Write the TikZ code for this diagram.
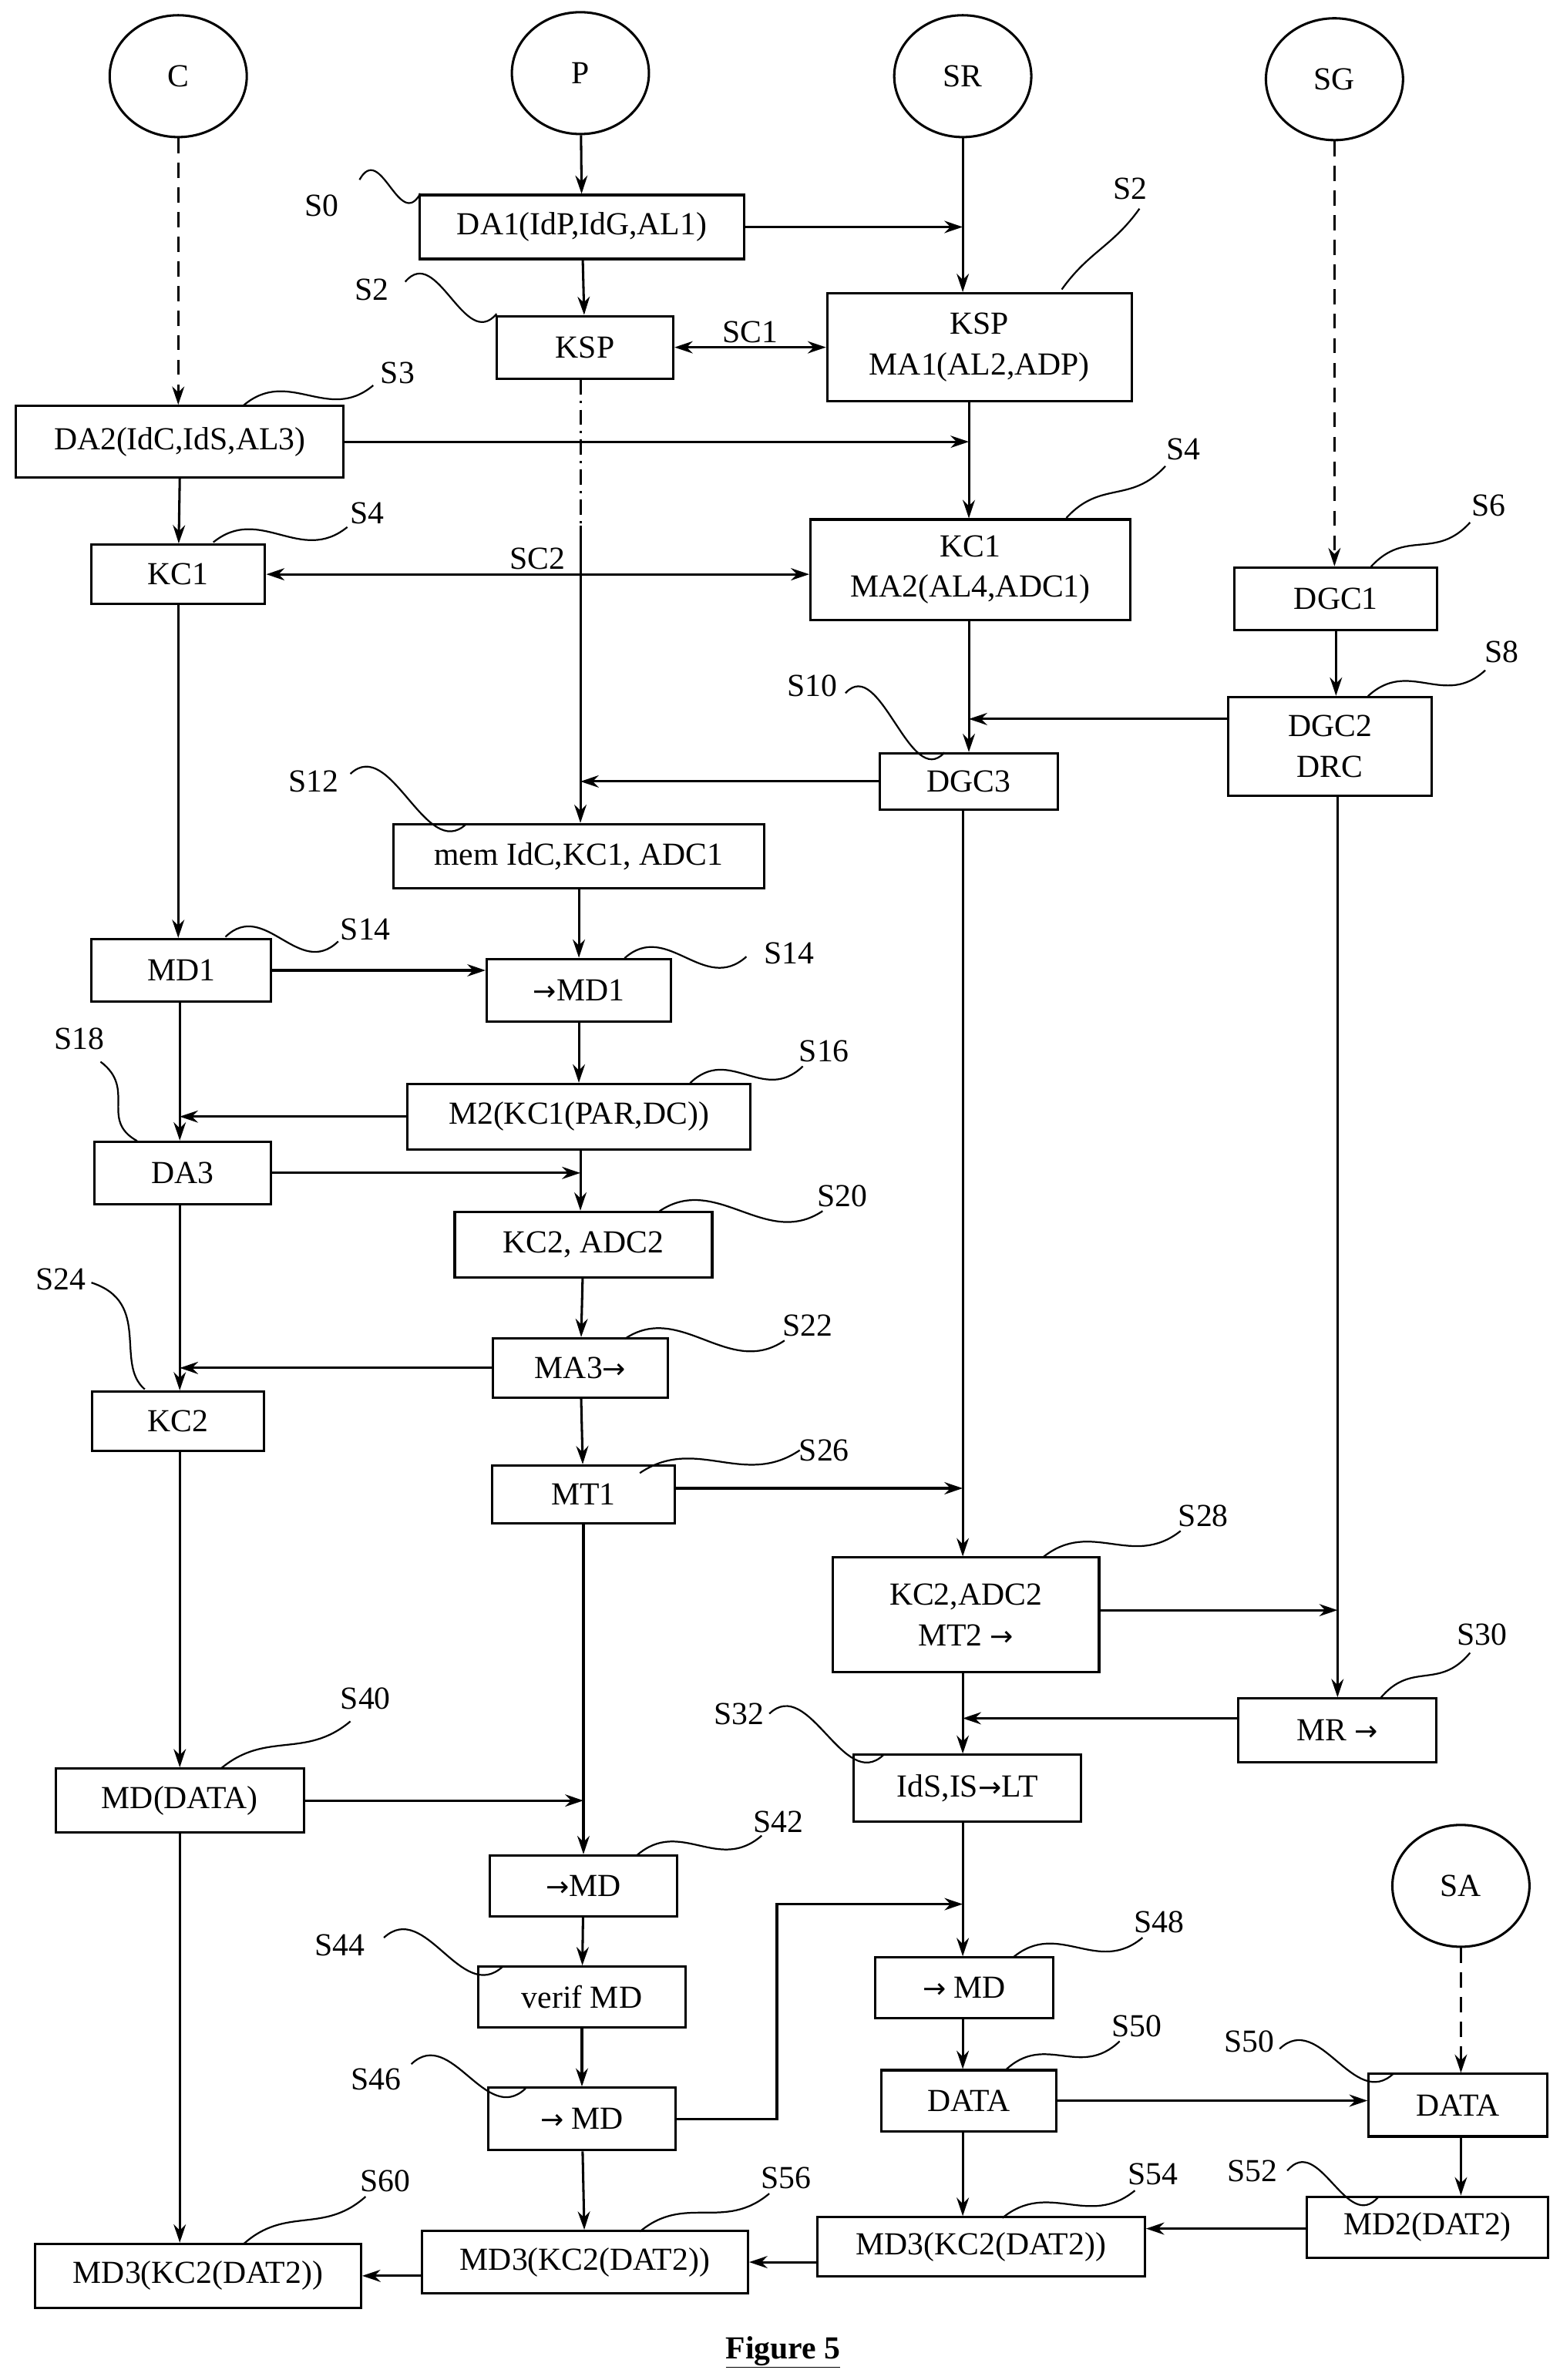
\documentclass[tikz,border=0pt]{standalone}
\usepackage{fontspec}
\setmainfont{Liberation Serif}
\newfontfamily\arrowfont{DejaVu Sans}
\newcommand\rarr{{\arrowfont\fontsize{26}{30}\selectfont→}}
\usetikzlibrary{shapes.geometric,arrows.meta}
\tikzstyle{box} = [rectangle, draw=black, line width=2.2pt, minimum height=2cm, align=center, inner sep=2pt, font=\fontsize{30}{38}\selectfont]
\tikzstyle{actor} = [ellipse, draw=black, line width=2.2pt, minimum width=4.5cm, minimum height=4cm, font=\fontsize{30}{36}\selectfont]
\tikzstyle{arrow} = [line width=2.2pt,-{Stealth[length=0.6cm,width=0.4cm]}]
\tikzstyle{biarrow} = [line width=2.2pt,{Stealth[length=0.6cm,width=0.4cm]}-{Stealth[length=0.6cm,width=0.4cm]}]
\tikzstyle{longdash} = [dash pattern=on 14pt off 9pt]
\tikzstyle{lead} = [line width=1.6pt]
\tikzstyle{lbl} = [font=\fontsize{30}{36}\selectfont]
\begin{document}
\begin{tikzpicture}[x=0.05cm,y=-0.05cm]
\useasboundingbox (0,0) rectangle (1024,1562.4);

% actors
\node (C) [actor] at (117,50) {C};
\node (P) [actor] at (381,48) {P};
\node (SR) [actor] at (632,50) {SR};
\node (SG) [actor] at (876,52) {SG};
\node (SA) [actor] at (959,1238) {SA};

% columns
\coordinate (pcol) at (381,0);
\coordinate (srcol) at (632,0);
\coordinate (mcol) at (636,0);
\coordinate (ccol) at (118,0);
\coordinate (sgcol) at (878,0);

% boxes
\node (DA1) [box, minimum width=10.65cm, minimum height=2.1cm] at (382,149) {DA1(IdP,IdG,AL1)};
\node (KSPa) [box, minimum width=5.8cm, minimum height=2.05cm] at (384,228) {KSP};
\node (KSPb) [box, minimum width=10cm, minimum height=3.55cm] at (643,228) {KSP\\MA1(AL2,ADP)};
\node (DA2) [box, minimum width=10.75cm, minimum height=2.35cm] at (118,290) {DA2(IdC,IdS,AL3)};
\node (KC1a) [box, minimum width=5.7cm, minimum height=1.95cm] at (117,377) {KC1};
\node (KC1b) [box, minimum width=10.5cm, minimum height=3.3cm] at (637,374) {KC1\\MA2(AL4,ADC1)};
\node (DGC1) [box, minimum width=6.65cm, minimum height=2.05cm] at (877,393) {DGC1};
\node (DGC2) [box, minimum width=6.7cm, minimum height=3.25cm] at (873,490) {DGC2\\DRC};
\node (DGC3) [box, minimum width=5.85cm, minimum height=1.85cm] at (636,513) {DGC3};
\node (mem) [box, minimum width=12.15cm, minimum height=2.1cm] at (380,562) {mem IdC,KC1, ADC1};
\node (MD1) [box, minimum width=5.9cm, minimum height=2.05cm] at (119,637) {MD1};
\node (rMD1) [box, minimum width=6.05cm, minimum height=2.05cm] at (380,650) {\rarr MD1};
\node (M2) [box, minimum width=11.25cm, minimum height=2.15cm] at (380,733) {M2(KC1(PAR,DC))};
\node (DA3) [box, minimum width=5.8cm, minimum height=2.05cm] at (120,770) {DA3};
\node (KC2ADC2) [box, minimum width=8.45cm, minimum height=2.15cm] at (383,817) {KC2, ADC2};
\node (MA3) [box, minimum width=5.75cm, minimum height=1.95cm] at (381,898) {MA3\rarr};
\node (KC2) [box, minimum width=5.65cm, minimum height=1.95cm] at (117,933) {KC2};
\node (MT1) [box, minimum width=6cm, minimum height=1.9cm] at (383,981) {MT1};
\node (MT2) [box, minimum width=8.75cm, minimum height=3.75cm] at (634,1060) {KC2,ADC2\\MT2 \rarr};
\node (MR) [box, minimum width=6.5cm, minimum height=2.1cm] at (878,1136) {MR \rarr};
\node (IdS) [box, minimum width=7.45cm, minimum height=2.2cm] at (635,1174) {IdS,IS\rarr LT};
\node (MDDATA) [box, minimum width=8.15cm, minimum height=2.1cm] at (118,1182) {MD(DATA)};
\node (rMDa) [box, minimum width=6.15cm, minimum height=2cm] at (383,1238) {\rarr MD};
\node (verif) [box, minimum width=6.8cm, minimum height=2cm] at (382,1311) {verif MD};
\node (rMDb) [box, minimum width=5.85cm, minimum height=2cm] at (633,1305) {\rarr{} MD};
\node (rMDc) [box, minimum width=6.15cm, minimum height=2.05cm] at (382,1391) {\rarr{} MD};
\node (DATAa) [box, minimum width=5.75cm, minimum height=2cm] at (636,1379) {DATA};
\node (DATAb) [box, minimum width=5.85cm, minimum height=2.05cm] at (957,1382) {DATA};
\node (MD2) [box, minimum width=7.9cm, minimum height=2cm] at (937,1462) {MD2(DAT2)};
\node (MD3a) [box, minimum width=10.75cm, minimum height=1.95cm] at (644,1475) {MD3(KC2(DAT2))};
\node (MD3b) [box, minimum width=10.7cm, minimum height=2.05cm] at (384,1485) {MD3(KC2(DAT2))};
\node (MD3c) [box, minimum width=10.7cm, minimum height=2.1cm] at (130,1494) {MD3(KC2(DAT2))};
\node (fig) [font=\fontsize{30}{36}\selectfont\bfseries] at (514,1544) {\underline{Figure 5}};

% connectors
\draw [arrow] (P) -- (DA1);
\draw [arrow] (DA1) -- (KSPa);
\draw [arrow] (DA1.east) -- (DA1.east -| srcol);
\draw [arrow] (SR) -- (SR |- KSPb.north);
\draw [biarrow] (KSPa) -- node[lbl, above] {SC1} (KSPb);
\draw [line width=2.2pt, dash pattern=on 14pt off 6pt on 2pt off 6pt] (KSPa.south -| pcol) -- (381,345);
\draw [arrow] (381,345) -- (mem.north -| pcol);
\draw [arrow, longdash] (C) -- (C |- DA2.north);
\draw [arrow] (DA2.east) -- (DA2.east -| mcol);
\draw [arrow] (KSPb.south -| mcol) -- (KC1b.north -| mcol);
\draw [arrow] (DA2.south -| ccol) -- (KC1a);
\draw [biarrow] (KC1a) -- node[lbl, above] {SC2} (KC1a -| KC1b.west);
\draw [arrow, longdash] (SG) -- (SG |- DGC1.north);
\draw [arrow] (DGC1) -- (DGC1 |- DGC2.north);
\draw [arrow] (KC1b.south -| mcol) -- (DGC3.north -| mcol);
\draw [arrow] (DGC2.west |- 0,472) -- (636,472);
\draw [arrow] (DGC3.west) -- (DGC3.west -| pcol);
\draw [arrow] (mem) -- (rMD1);
\draw [arrow] (KC1a) -- (MD1.north -| KC1a);
\draw [arrow] (MD1.east) -- (MD1.east -| rMD1.west);
\draw [arrow] (rMD1) -- (M2);
\draw [arrow] (M2.west) -- (M2.west -| ccol);
\draw [arrow] (MD1.south -| ccol) -- (DA3.north -| ccol);
\draw [arrow] (DA3.east) -- (DA3.east -| pcol);
\draw [arrow] (M2.south -| pcol) -- (KC2ADC2.north -| pcol);
\draw [arrow] (KC2ADC2) -- (MA3);
\draw [arrow] (MA3.west) -- (MA3.west -| ccol);
\draw [arrow] (DA3.south -| ccol) -- (KC2.north -| ccol);
\draw [arrow] (MA3) -- (MT1);
\draw [arrow] (MT1.east |- 0,977) -- (632,977);
\draw [arrow] (DGC3.south -| srcol) -- (MT2.north -| srcol);
\draw [arrow] (DGC2.south -| sgcol) -- (MR.north -| sgcol);
\draw [arrow] (MT2.east |- 0,1057) -- (878,1057);
\draw [arrow] (MT2.south -| srcol) -- (IdS.north -| srcol);
\draw [arrow] (MR.west |- 0,1128) -- (632,1128);
\draw [arrow] (KC2.south -| ccol) -- (MDDATA.north -| ccol);
\draw [arrow] (MDDATA.east) -- (MDDATA.east -| rMDa);
\draw [arrow] (MT1) -- (rMDa);
\draw [arrow] (rMDa) -- (verif);
\draw [arrow] (verif) -- (rMDc);
\coordinate (bend) at (510,1250);
\draw [arrow] (rMDc.east) -| (bend) -- (bend -| srcol);
\draw [arrow] (IdS.south -| srcol) -- (rMDb.north -| srcol);
\draw [arrow] (rMDb.south -| srcol) -- (DATAa.north -| srcol);
\draw [arrow] (DATAa) -- (DATAa -| DATAb.west);
\draw [arrow, longdash] (SA) -- (SA |- DATAb.north);
\draw [arrow] (DATAb.south -| SA) -- (MD2.north -| SA);
\draw [arrow] (MD2.west |- 0,1463) -- (MD3a.east |- 0,1463);
\draw [arrow] (DATAa.south -| srcol) -- (MD3a.north -| srcol);
\draw [arrow] (MD3a.west |- MD3b) -- (MD3b.east);
\draw [arrow] (rMDc) -- (MD3b);
\draw [arrow] (MD3b.west |- MD3c) -- (MD3c.east);
\draw [arrow] (MDDATA.south -| ccol) -- (MD3c.north -| ccol);

% step labels
\foreach \name/\lx/\ly/\ax/\ay/\bx/\by in {
  S0/211/135/236/118/276/127,
  S2/742/124/697/190/748/137,
  S2/244/190/266/185/326/206,
  S3/261/245/160/266/245/253,
  S4/241/337/140/356/228/346,
  S4/777/295/700/340/765/306,
  S6/977/332/900/372/965/343,
  S8/986/428/898/457/975/440,
  S10/533/450/555/455/620/494,
  S12/206/513/230/508/306/541,
  S14/240/610/148/615/222/618,
  S14/518/626/410/629/490/628,
  S16/541/690/453/711/527/700,
  S20/553/785/433/795/540/795,
  S22/530/870/410/879/515/880,
  S26/541/952/420/967/525/952,
  S28/790/995/685/1022/775/1005,
  S30/973/1073/906/1115/965/1085,
  S32/485/1125/505/1125/580/1152,
  S40/240/1115/145/1161/230/1130,
  S42/511/1196/418/1218/500/1205,
  S44/223/1277/252/1272/330/1291,
  S46/247/1365/270/1355/345/1371,
  S48/761/1262/665/1285/750/1272,
  S50/746/1330/660/1359/735/1340,
  S50/820/1340/840/1345/915/1361,
  S52/822/1425/845/1425/905/1442,
  S54/757/1427/658/1456/745/1438,
  S56/516/1430/420/1465/505/1440,
  S60/253/1432/160/1473/240/1442}
{
  \node [lbl] at (\lx,\ly) {\name};
  \draw [lead] (\ax,\ay) .. controls (\ax+0.35*\bx-0.35*\ax,\ay-25) and (\bx-0.35*\bx+0.35*\ax,\by+25) .. (\bx,\by);
}
\node [lbl] at (52,682) {S18};
\draw [lead] (66,697) .. controls (90,715) and (65,735) .. (90,749);
\node [lbl] at (40,840) {S24};
\draw [lead] (60,842) .. controls (100,855) and (75,895) .. (95,912);

\end{tikzpicture}
\end{document}
